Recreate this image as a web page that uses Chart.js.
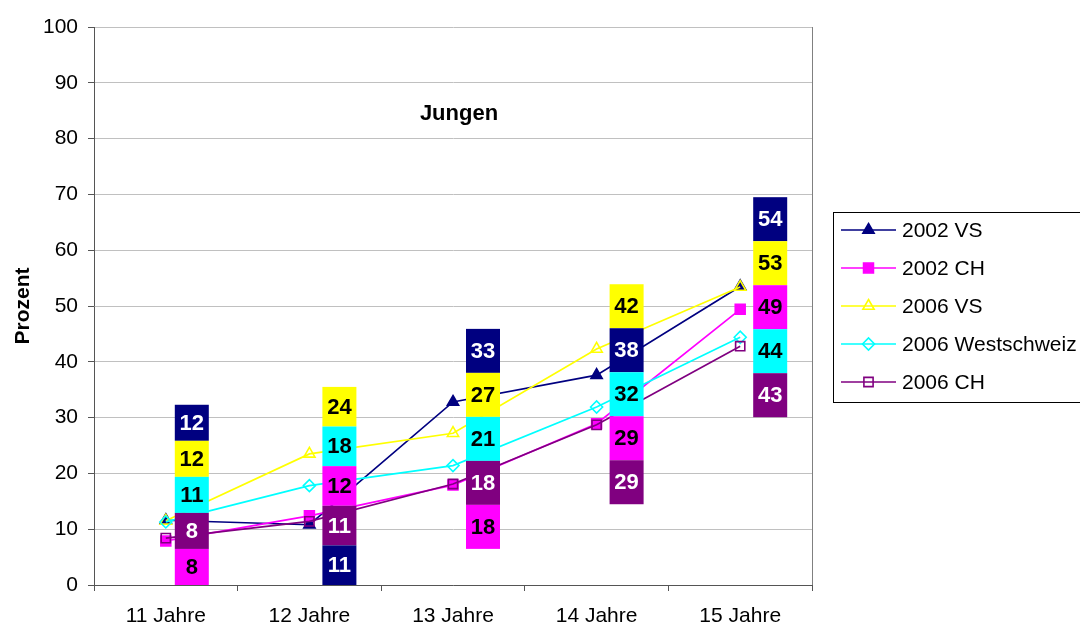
<!DOCTYPE html>
<html lang="de">
<head>
<meta charset="UTF-8">
<title>Jungen</title>
<script src="https://cdn.jsdelivr.net/npm/chart.js"></script>
<style>
  html, body { margin: 0; padding: 0; background: #fff; }
  #wrap { width: 1080px; height: 625px; overflow: hidden; }
</style>
</head>
<body>
<div id="wrap"><canvas id="chart" width="1080" height="625"></canvas></div>
<script>
const ages = ['11 Jahre', '12 Jahre', '13 Jahre', '14 Jahre', '15 Jahre'];
const vs2002 = [11.6, 10.8, 32.8, 37.6, 53.5];
const ch2002 = [7.9, 12.4, 17.9, 28.9, 49.4];
const vs2006 = [11.5, 23.5, 27.2, 42.3, 53.4];
const west2006 = [11.3, 17.8, 21.4, 31.9, 44.4];
const ch2006 = [8.4, 11.4, 18.1, 28.7, 42.8];
const yMin = 0, yMax = 100, yStep = 10;
// upper edge of each column of value boxes, in percent
const labelTop = [32.3, 35.5, 45.9, 53.9, 69.5];

const FONT = 'Arial, "Liberation Sans", sans-serif';

function series(label, data, color, style, filled, radius, boxText, order) {
    return {
        label: label,
        data: data,
        borderColor: color,
        backgroundColor: color,
        borderWidth: 1.7,
        pointStyle: style,
        pointRadius: radius,
        pointBorderWidth: 1.6,
        pointBorderColor: color,
        pointBackgroundColor: filled ? color : 'rgba(0,0,0,0)',
        boxColor: color,
        boxText: boxText,
        order: order
    };
}

const datasets = [
    series('2002 VS', vs2002, '#000080', 'triangle', true, 6.5, '#fff', 5),
    series('2002 CH', ch2002, '#ff00ff', 'rect', true, 7, '#000', 4),
    series('2006 VS', vs2006, '#ffff00', 'triangle', false, 6.5, '#000', 3),
    series('2006 Westschweiz', west2006, '#00ffff', 'rectRot', false, 6, '#000', 2),
    series('2006 CH', ch2006, '#800080', 'rect', false, 6.5, '#fff', 1)
];

const decor = {
    id: 'decor',
    afterDatasetsDraw(chart) {
        const ctx = chart.ctx;
        const a = chart.chartArea;
        const x = chart.scales.x, y = chart.scales.y;
        const sets = chart.data.datasets;

        // right edge of the plot frame
        ctx.save();
        ctx.strokeStyle = '#808080';
        ctx.lineWidth = 1;
        ctx.beginPath();
        ctx.moveTo(Math.round(a.right) + 0.5, a.top);
        ctx.lineTo(Math.round(a.right) + 0.5, a.bottom);
        ctx.stroke();
        ctx.restore();

        // value boxes, stacked from the highest value downwards
        ctx.save();
        ctx.beginPath();
        ctx.rect(a.left, a.top, a.right - a.left, a.bottom - a.top);
        ctx.clip();
        ctx.font = 'bold 22px ' + FONT;
        ctx.textAlign = 'center';
        ctx.textBaseline = 'middle';
        ages.forEach((_, i) => {
            const items = sets.map(ds => ({ v: ds.data[i], bg: ds.boxColor, fg: ds.boxText }));
            items.sort((p, q) => q.v - p.v);
            const top = y.getPixelForValue(labelTop[i]);
            const step = Math.min(44, (a.bottom - top) / items.length);
            const cx = x.getPixelForValue(i) + (i === 0 ? 26 : 30);
            items.forEach((it, k) => {
                const ty = top + k * step;
                ctx.fillStyle = it.bg;
                ctx.fillRect(cx - 17, ty, 34, step);
                ctx.fillStyle = it.fg;
                ctx.fillText(String(Math.round(it.v)), cx, ty + step / 2 + 1);
            });
        });
        ctx.restore();

        // chart heading inside the plot
        ctx.save();
        ctx.fillStyle = '#000';
        ctx.font = 'bold 22px ' + FONT;
        ctx.textAlign = 'center';
        ctx.textBaseline = 'middle';
        ctx.fillText('Jungen', (a.left + a.right) / 2 + 6, a.top + 87);
        ctx.restore();
    },
    afterDraw(chart) {
        const ctx = chart.ctx;
        const sets = chart.data.datasets;
        const boxL = 833, boxT = 212, rowH = 38, firstRow = 230;

        ctx.save();
        ctx.strokeStyle = '#000';
        ctx.lineWidth = 1;
        ctx.strokeRect(boxL + 0.5, boxT + 0.5, 400, 190);
        ctx.font = '21px ' + FONT;
        ctx.textAlign = 'left';
        ctx.textBaseline = 'middle';
        sets.forEach((ds, k) => {
            const ry = firstRow + k * rowH;
            ctx.strokeStyle = ds.borderColor;
            ctx.lineWidth = ds.borderWidth;
            ctx.beginPath();
            ctx.moveTo(841, ry);
            ctx.lineTo(896, ry);
            ctx.stroke();
            ctx.fillStyle = ds.pointBackgroundColor;
            ctx.strokeStyle = ds.pointBorderColor;
            ctx.lineWidth = ds.pointBorderWidth;
            Chart.helpers.drawPoint(ctx, {
                pointStyle: ds.pointStyle,
                radius: ds.pointRadius,
                borderWidth: ds.pointBorderWidth,
                rotation: 0
            }, 868.5, ry);
            ctx.fillStyle = '#000';
            ctx.fillText(ds.label, 902, ry + 1);
        });
        ctx.restore();
    }
};

new Chart(document.getElementById('chart'), {
    type: 'line',
    data: { labels: ages, datasets: datasets },
    plugins: [decor],
    options: {
        responsive: false,
        animation: false,
        layout: { padding: { left: 0, top: 27, right: 268, bottom: 0 } },
        plugins: {
            legend: { display: false },
            tooltip: { enabled: false }
        },
        elements: { line: { tension: 0 } },
        scales: {
            x: {
                offset: true,
                grid: { offset: true, drawOnChartArea: false, tickLength: 6, color: '#555' },
                border: { color: '#555', width: 1 },
                ticks: { color: '#000', font: { size: 21, family: FONT }, padding: 13 },
                afterFit: s => { s.height = 40; }
            },
            y: {
                min: yMin,
                max: yMax,
                ticks: { stepSize: yStep, color: '#000', font: { size: 21, family: FONT }, padding: 10 },
                grid: { color: '#c0c0c0', tickColor: '#555', tickLength: 6 },
                border: { color: '#555', width: 1 },
                title: {
                    display: true,
                    text: 'Prozent',
                    color: '#000',
                    font: { size: 21, weight: 'bold', family: FONT },
                    padding: { top: 11, bottom: 0 }
                },
                afterFit: s => { s.width = 94; }
            }
        }
    }
});
</script>
</body>
</html>
